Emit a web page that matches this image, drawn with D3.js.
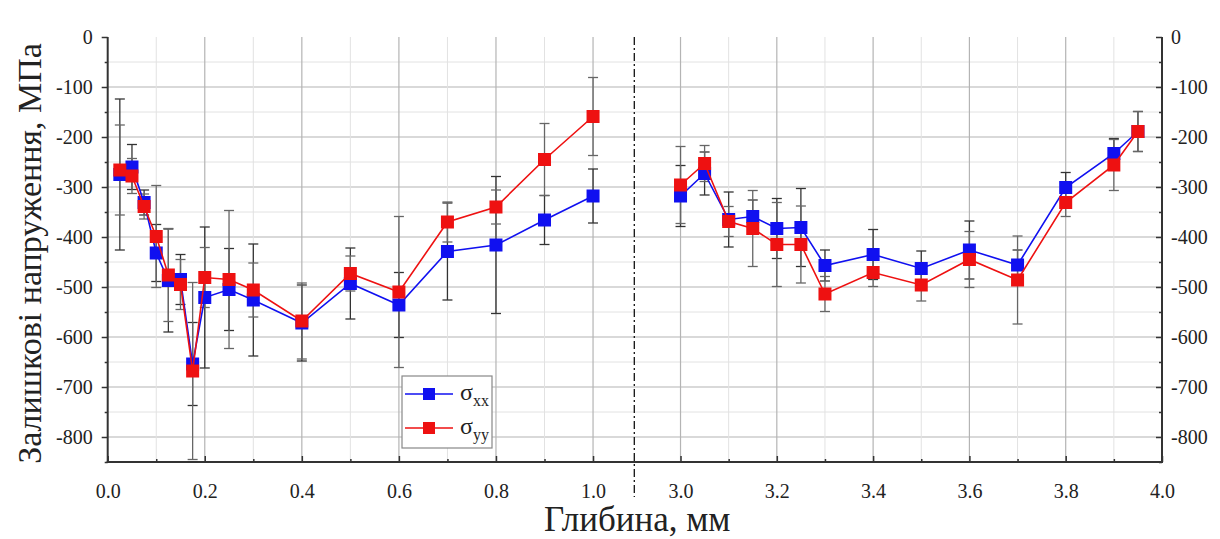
<!DOCTYPE html>
<html><head><meta charset="utf-8">
<script src="https://cdn.jsdelivr.net/npm/d3@7"></script>
<style>
body{margin:0;background:#fff;}
svg text{font-family:"Liberation Serif","Times New Roman",serif !important;}
</style></head>
<body><svg id="c" width="1220" height="539"></svg>
<script>
// ---- data ----
const depthLeft = [0.025,0.05,0.075,0.1,0.125,0.15,0.175,0.2,0.25,0.3,0.4,0.5,0.6,0.7,0.8,0.9,1.0];
const sxxLeft   = [-275,-260,-331,-432,-487,-485,-654,-521,-505,-526,-572,-493,-536,-429,-416,-366,-318];
const syyLeft   = [-266,-278,-339,-399,-476,-495,-668,-481,-485,-506,-568,-473,-510,-370,-340,-245,-159];
const errXxLeft = [151,45,25,57,103,50,83,141,82,112,76,71,65,97,137,49,54];
const errYyLeft = [90,35,25,102,93,50,177,60,138,54,76,35,151,40,34,72,78];

const depthRight = [3.0,3.05,3.1,3.15,3.2,3.25,3.3,3.4,3.5,3.6,3.7,3.8,3.9,3.95];
const sxxRight   = [-318,-273,-365,-359,-383,-381,-457,-435,-463,-426,-456,-301,-233,-189];
const syyRight   = [-296,-253,-369,-383,-415,-415,-514,-471,-496,-445,-486,-331,-256,-189];
const errXxRight = [61,43,55,33,60,78,31,50,35,58,30,30,30,40];
const errYyRight = [77,36,30,76,84,77,35,28,32,56,88,28,51,40];

const yTicks = [0,-100,-200,-300,-400,-500,-600,-700,-800];
const yMinor = [-50,-150,-250,-350,-450,-550,-650,-750,-850];
const xTicksLeft = [0.0,0.2,0.4,0.6,0.8,1.0];
const xMinorLeft = [0.1,0.3,0.5,0.7,0.9];
const xTicksRight = [3.0,3.2,3.4,3.6,3.8,4.0];
const xMinorRight = [3.1,3.3,3.5,3.7,3.9];

const seriesNames = ["xx","yy"];
const seriesColors = ["#1010f0","#ee1111"];

// ---- layout ----
const L = 107.7, B = 634.3, R = 1162, T = 37, BOT = 462;
const FONT = "Liberation Serif";
const svg = d3.select("#c");
const xL = d3.scaleLinear().domain([0,1.085]).range([L,B]);
const xR = d3.scaleLinear().domain([2.904,4.0]).range([B,R]);
const y = d3.scaleLinear().domain([-850,0]).range([BOT,T]);

// grid
const g = svg.append("g");
g.selectAll(".hmin").data(yMinor.filter(v=>v>-850)).enter().append("line")
 .attr("x1",L).attr("x2",R).attr("y1",d=>y(d)).attr("y2",d=>y(d))
 .attr("stroke","#e2e2e2").attr("stroke-width",1);
g.selectAll(".hmaj").data(yTicks.filter(v=>v<0)).enter().append("line")
 .attr("x1",L).attr("x2",R).attr("y1",d=>y(d)).attr("y2",d=>y(d))
 .attr("stroke","#b4b4b4").attr("stroke-width",1.2);
function vgrid(scale, minor, major){
  g.selectAll(null).data(minor).enter().append("line")
   .attr("x1",d=>scale(d)).attr("x2",d=>scale(d)).attr("y1",T).attr("y2",BOT)
   .attr("stroke","#e2e2e2").attr("stroke-width",1);
  g.selectAll(null).data(major).enter().append("line")
   .attr("x1",d=>scale(d)).attr("x2",d=>scale(d)).attr("y1",T).attr("y2",BOT)
   .attr("stroke","#b4b4b4").attr("stroke-width",1.2);
}
vgrid(xL, xMinorLeft, xTicksLeft.filter(v=>v>0));
vgrid(xR, xMinorRight, xTicksRight.filter(v=>v<4));

// error bars
function errBars(scale, xs, ys, es, color){
  const eg = svg.append("g").attr("stroke",color).attr("stroke-width",1.3).attr("fill","none");
  xs.forEach((x,i)=>{
    const cx = scale(x), y1 = y(ys[i]+es[i]), y2 = y(ys[i]-es[i]);
    eg.append("line").attr("x1",cx).attr("x2",cx).attr("y1",y1).attr("y2",y2);
    eg.append("line").attr("x1",cx-5).attr("x2",cx+5).attr("y1",y1).attr("y2",y1);
    eg.append("line").attr("x1",cx-5).attr("x2",cx+5).attr("y1",y2).attr("y2",y2);
  });
}
errBars(xL, depthLeft, sxxLeft, errXxLeft, "#333");
errBars(xL, depthLeft, syyLeft, errYyLeft, "#666");
errBars(xR, depthRight, sxxRight, errXxRight, "#333");
errBars(xR, depthRight, syyRight, errYyRight, "#666");

// lines + markers
function series(scale, xs, ys, color){
  const line = d3.line().x((d,i)=>scale(xs[i])).y(d=>y(d));
  svg.append("path").datum(ys).attr("d",line).attr("fill","none")
     .attr("stroke",color).attr("stroke-width",1.6);
  svg.append("g").selectAll("rect").data(ys).enter().append("rect")
     .attr("x",(d,i)=>scale(xs[i])-6.5).attr("y",d=>y(d)-6.5)
     .attr("width",13).attr("height",13).attr("fill",color);
}
series(xL, depthLeft, sxxLeft, seriesColors[0]);
series(xR, depthRight, sxxRight, seriesColors[0]);
series(xL, depthLeft, syyLeft, seriesColors[1]);
series(xR, depthRight, syyRight, seriesColors[1]);

// axes
const axCol = "#333";
const fmtY = d => String(d);
function styleAxis(sel){
  sel.attr("font-family", null).attr("font-size", null);
  sel.select(".domain").remove();
  sel.selectAll("line").attr("stroke",axCol).attr("stroke-width",1.5);
  sel.selectAll("text").style("font-size","20px").style("fill","#222")
     .style("font-family",FONT);
}
// left y
svg.append("g").attr("transform",`translate(${L},0)`)
  .call(d3.axisLeft(y).tickValues(yTicks).tickSize(6).tickPadding(9).tickFormat(fmtY))
  .call(styleAxis);
svg.append("g").attr("transform",`translate(${L},0)`)
  .call(d3.axisLeft(y).tickValues(yMinor).tickSize(3).tickFormat(""))
  .call(styleAxis);
// right y
svg.append("g").attr("transform",`translate(${R},0)`)
  .call(d3.axisRight(y).tickValues(yTicks).tickSize(-6).tickPadding(9).tickFormat(fmtY))
  .call(styleAxis);
svg.append("g").attr("transform",`translate(${R},0)`)
  .call(d3.axisRight(y).tickValues(yMinor).tickSize(-3).tickFormat(""))
  .call(styleAxis);
// x axes
const fmtX = d3.format(".1f");
svg.append("g").attr("transform",`translate(0,${BOT})`)
  .call(d3.axisBottom(xL).tickValues(xTicksLeft).tickSize(-6).tickPadding(22).tickFormat(fmtX))
  .call(styleAxis);
svg.append("g").attr("transform",`translate(0,${BOT})`)
  .call(d3.axisBottom(xL).tickValues(xMinorLeft).tickSize(-3).tickFormat(""))
  .call(styleAxis);
svg.append("g").attr("transform",`translate(0,${BOT})`)
  .call(d3.axisBottom(xR).tickValues(xTicksRight).tickSize(-6).tickPadding(22).tickFormat(fmtX))
  .call(styleAxis);
svg.append("g").attr("transform",`translate(0,${BOT})`)
  .call(d3.axisBottom(xR).tickValues(xMinorRight).tickSize(-3).tickFormat(""))
  .call(styleAxis);
// axis lines
svg.append("line").attr("x1",L).attr("x2",L).attr("y1",T).attr("y2",BOT+1).attr("stroke",axCol).attr("stroke-width",2);
svg.append("line").attr("x1",R).attr("x2",R).attr("y1",T).attr("y2",BOT+1).attr("stroke",axCol).attr("stroke-width",2);
svg.append("line").attr("x1",L-1).attr("x2",R+1).attr("y1",BOT).attr("y2",BOT).attr("stroke",axCol).attr("stroke-width",2.2);

// break line
svg.append("line").attr("x1",B).attr("x2",B).attr("y1",T).attr("y2",497)
  .attr("stroke","#111").attr("stroke-width",1.3).attr("stroke-dasharray","8,3,2,3");

// titles
svg.append("text").attr("transform",`translate(41,${(T+BOT)/2+4}) rotate(-90)`)
  .attr("text-anchor","middle").style("font-size","34px").attr("fill","#222")
  .text("Залишкові напруження, МПа");
svg.append("text").attr("x",B+3).attr("y",531).attr("text-anchor","middle")
  .style("font-size","35px").attr("fill","#222").text("Глибина, мм");

// legend
const lg = svg.append("g");
lg.append("rect").attr("x",402).attr("y",376).attr("width",90).attr("height",72)
  .attr("fill","#fff").attr("stroke","#888").attr("stroke-width",1.2);
seriesNames.forEach((n,i)=>{
  const yy = 394 + i*34;
  lg.append("line").attr("x1",405).attr("x2",453).attr("y1",yy).attr("y2",yy)
    .attr("stroke",seriesColors[i]).attr("stroke-width",1.6);
  lg.append("rect").attr("x",423).attr("y",yy-6).attr("width",12).attr("height",12).attr("fill",seriesColors[i]);
  const t = lg.append("text").attr("x",460).attr("y",yy+6).style("font-size","24px").attr("fill","#222");
  t.append("tspan").text("σ");
  t.append("tspan").attr("dy",6).style("font-size","16px").text(n);
});
</script></body></html>
